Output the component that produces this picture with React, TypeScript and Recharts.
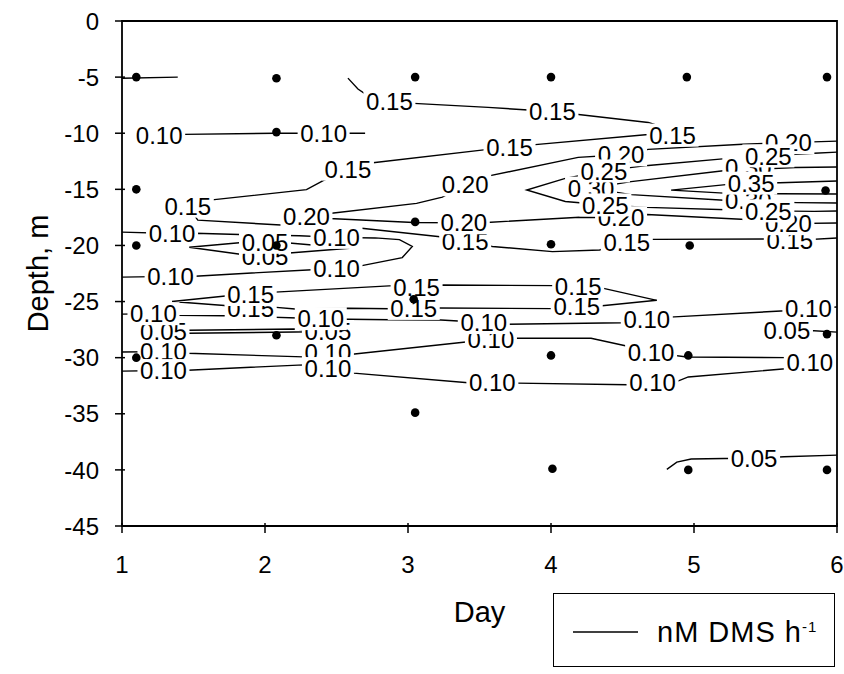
import { ScatterChart, Scatter, XAxis, YAxis, ReferenceArea } from 'recharts'

type Pt = [number, number]

const days = [1, 2, 3, 4, 5, 6]
const depthTicks = [0, -5, -10, -15, -20, -25, -30, -35, -40, -45]

// sampling stations (day, depth m)
const samples: Pt[] = [
    [1.1, -5], [1.1, -15], [1.1, -20], [1.1, -30],
    [2.08, -5.1], [2.08, -9.9], [2.08, -20], [2.08, -28],
    [3.05, -5], [3.05, -17.9], [3.04, -24.8], [3.05, -34.9],
    [4.0, -5], [4.0, -19.9], [4.0, -29.8], [4.01, -39.9],
    [4.95, -5], [4.97, -20], [4.96, -29.8], [4.96, -40],
    [5.93, -5], [5.92, -15.1], [5.93, -27.9], [5.93, -40],
]

// isolines, traced point by point (day, depth)
const iso010e: Pt[] = [[1.0, -5.1], [1.39, -5.0]]
const iso015a: Pt[] = [
    [2.58, -5.09], [2.65, -6.06], [2.7, -6.5], [2.87, -7.19], [3.04, -7.34], [3.56, -7.7], [4.01, -8.07],
    [4.68, -9.04], [4.85, -9.72], [4.68, -10.11], [3.87, -11.04], [3.71, -11.24], [3.56, -11.44],
    [2.74, -12.65], [2.58, -13.2], [2.41, -14.21], [2.29, -15.03], [1.63, -15.94], [1.46, -16.5],
    [1.53, -17.74], [2.11, -18.18], [2.66, -18.45], [3.24, -19.25], [3.4, -19.67], [3.59, -20.09],
    [4.01, -20.55], [4.34, -20.41], [4.53, -19.76], [4.71, -19.46], [5.51, -19.42], [5.67, -19.57], [6.0, -19.34],
]
const iso010a: Pt[] = [[1.26, -10.2], [1.43, -10.1], [2.07, -10.0], [2.41, -10.0], [2.7, -10.0]]
const iso020: Pt[] = [
    [6.0, -10.7], [5.66, -10.84], [5.34, -10.98], [4.68, -11.44], [4.49, -11.92], [4.19, -12.15],
    [3.55, -13.85], [3.4, -14.59], [3.24, -15.69], [3.06, -16.25], [2.45, -17.15], [2.29, -17.44],
    [2.45, -17.6], [3.04, -17.95], [3.39, -17.98], [3.55, -17.95], [4.2, -17.49], [4.49, -17.53],
    [4.67, -17.24], [5.33, -17.67], [5.66, -18.06], [6.0, -18.0],
]
const iso025: Pt[] = [
    [6.0, -11.68], [5.84, -11.79], [5.52, -12.02], [5.24, -12.24], [4.68, -12.87], [4.37, -13.36],
    [4.1, -14.03], [3.83, -15.06], [4.1, -16.08], [4.38, -16.39], [4.67, -16.61], [5.35, -16.86],
    [5.52, -16.92], [5.84, -16.96], [6.0, -16.93],
]
const iso030: Pt[] = [
    [6.0, -13.01], [5.71, -13.06], [5.22, -13.32], [4.56, -14.31], [4.28, -14.89],
    [4.56, -15.47], [5.24, -15.99], [5.72, -16.18], [6.0, -16.22],
]
const iso035: Pt[] = [
    [6.0, -14.26], [5.6, -14.41], [5.4, -14.45], [5.24, -14.56], [4.84, -15.07],
    [5.24, -15.36], [5.59, -15.4], [6.0, -15.42],
]
const iso010b: Pt[] = [
    [1.0, -18.81], [1.35, -18.93], [1.51, -18.91], [1.82, -19.03], [2.24, -19.14], [2.5, -19.28],
    [2.77, -19.33], [2.94, -19.48], [3.03, -20.09], [2.96, -21.08], [2.66, -21.84], [2.5, -22.04],
    [2.33, -22.16], [1.51, -22.74], [1.34, -22.76], [1.0, -22.82],
]
const iso005a: Pt[] = [
    [1.47, -20.16], [1.84, -19.74], [2.0, -19.72], [2.17, -19.78], [2.59, -20.25],
    [2.17, -20.67], [2.0, -20.97], [1.84, -20.81], [1.47, -20.16],
]
const iso015b: Pt[] = [
    [1.35, -24.99], [1.74, -24.48], [1.9, -24.37], [2.07, -24.16], [2.9, -23.58], [3.06, -23.74],
    [3.24, -23.53], [4.03, -23.58], [4.19, -23.64], [4.36, -23.8], [4.74, -24.89], [4.34, -25.4],
    [4.18, -25.43], [4.01, -25.63], [3.21, -25.58], [3.04, -25.61], [2.88, -25.64], [2.58, -25.6],
    [2.21, -25.66], [2.06, -25.5], [1.9, -25.62], [1.74, -25.38], [1.35, -24.99],
]
const iso010c: Pt[] = [
    [1.0, -26.12], [1.22, -26.08], [1.39, -26.23], [1.72, -26.27], [2.23, -26.46], [2.39, -26.52],
    [2.58, -26.58], [2.88, -26.62], [3.23, -26.65], [3.53, -26.87], [3.69, -27.02], [4.5, -26.89],
    [4.67, -26.6], [4.83, -26.39], [5.64, -25.82], [5.8, -25.61], [6.0, -25.49],
]
const iso005b: Pt[] = [
    [1.29, -27.68], [1.46, -27.56], [2.21, -27.44], [2.44, -27.67],
    [2.21, -27.71], [1.46, -27.83], [1.29, -27.68],
]
const iso005c: Pt[] = [[5.65, -27.6], [5.81, -27.58], [6.0, -27.72]]
const iso010d: Pt[] = [
    [1.0, -29.5], [1.29, -29.46], [1.46, -29.61], [2.27, -29.93], [2.44, -29.54], [2.61, -29.69],
    [3.42, -28.58], [3.58, -28.38], [3.75, -28.26], [4.28, -28.27], [4.52, -28.94], [4.7, -29.53],
    [4.95, -29.94], [5.65, -30.0], [5.81, -30.43], [5.64, -30.99], [4.96, -31.72], [4.87, -32.18],
    [4.71, -32.21], [4.54, -32.41], [3.76, -32.27], [3.59, -32.21], [3.42, -32.24], [2.62, -31.38],
    [2.44, -30.97], [2.27, -30.64], [1.46, -31.12], [1.29, -31.15], [1.0, -31.2],
]
const iso005d: Pt[] = [
    [4.81, -39.95], [4.88, -39.31], [4.98, -39.03], [5.21, -38.99], [5.42, -38.96], [5.63, -38.83], [6.0, -38.68],
]

// contour labels (day, depth) per level
const lab030: Pt[] = [[5.38, -13.0], [4.28, -14.89], [5.38, -15.97]]
const lab010low: Pt[] = [
    [1.29, -29.46], [2.44, -29.54], [3.58, -28.38], [4.7, -29.53], [5.81, -30.43],
    [4.71, -32.21], [3.59, -32.21], [2.44, -30.97], [1.29, -31.15],
]
const lab005: Pt[] = [[2.0, -20.97], [2.0, -19.72], [1.29, -27.68], [2.44, -27.67], [5.65, -27.6], [5.42, -38.96]]
const lab010: Pt[] = [
    [1.26, -10.2], [2.41, -10.0], [1.35, -18.93], [2.5, -19.28], [2.5, -22.04], [1.34, -22.76],
    [1.22, -26.08], [2.39, -26.52], [3.53, -26.87], [4.67, -26.6], [5.8, -25.61],
]
const lab015: Pt[] = [
    [1.9, -25.62], [3.04, -25.61], [4.18, -25.43], [1.9, -24.37], [3.06, -23.74], [4.19, -23.64],
    [2.87, -7.19], [4.01, -8.07], [4.85, -10.17], [3.71, -11.24], [2.58, -13.2], [1.46, -16.5],
    [3.4, -19.67], [4.53, -19.76], [5.67, -19.57],
]
const lab020: Pt[] = [[5.66, -10.84], [4.49, -11.92], [3.4, -14.59], [2.29, -17.44], [3.39, -17.98], [4.49, -17.53], [5.66, -18.06]]
const lab025: Pt[] = [[5.52, -12.02], [4.37, -13.36], [4.38, -16.39], [5.52, -16.92]]
const lab035: Pt[] = [[5.4, -14.45]]

const isolines = [iso010e, iso015a, iso010a, iso020, iso025, iso030, iso035, iso010b, iso005a, iso015b, iso010c, iso005b, iso005c, iso010d, iso005d]
const labelGroups: [Pt[], string][] = [
    [lab030, '0.30'], [lab010low, '0.10'], [lab005, '0.05'], [lab010, '0.10'],
    [lab015, '0.15'], [lab020, '0.20'], [lab025, '0.25'], [lab035, '0.35'],
]

const FONT = '"Liberation Sans", Arial, sans-serif'

const toXY = (pts: Pt[]) => pts.map(([x, y]) => ({ x, y }))
const toLabels = (pts: Pt[], v: string) => pts.map(([x, y]) => ({ x, y, v }))

const Nothing = () => <g />

// label knocks the isoline out behind it, like the original contour software
const ContourLabel = (props: any) => {
    const { cx, cy, payload } = props
    if (cx == null || cy == null) return <g />
    return (
        <g>
            <rect x={cx - 26} y={cy - 11.5} width={52} height={23} fill="#fff" />
            <text x={cx} y={cy} dy="0.36em" textAnchor="middle" fontSize={24} fill="#000">
                {payload.v}
            </text>
        </g>
    )
}

const Dot = (props: any) => {
    const { cx, cy } = props
    if (cx == null || cy == null) return <g />
    return <circle cx={cx} cy={cy} r={4.3} fill="#000" />
}

const XTick = (props: any) => {
    const { x, y, payload } = props
    return (
        <g>
            <line x1={x} x2={x} y1={y - 3} y2={y + 7} stroke="#000" strokeWidth={1.5} />
            <text x={x} y={y + 38} dy="0.36em" textAnchor="middle" fontSize={24} fill="#000">
                {payload.value}
            </text>
        </g>
    )
}

const YTick = (props: any) => {
    const { x, y, payload } = props
    return (
        <g>
            <line x1={x - 7} x2={x + 3} y1={y} y2={y} stroke="#000" strokeWidth={1.5} />
            <text x={x - 23} y={y} dy="0.36em" textAnchor="end" fontSize={24} fill="#000">
                {payload.value}
            </text>
        </g>
    )
}

export default function App() {
    return (
        <div style={{ position: 'absolute', left: 0, top: 0, width: 844, height: 674, background: '#fff', fontFamily: FONT }}>
            <ScatterChart width={844} height={674} margin={{ top: 21, right: 7, bottom: 108, left: 0 }}>
                <XAxis
                    type="number"
                    dataKey="x"
                    domain={[1, 6]}
                    ticks={days}
                    interval={0}
                    allowDataOverflow
                    height={40}
                    axisLine={false}
                    tickLine={false}
                    tickSize={0}
                    tickMargin={0}
                    tick={<XTick />}
                    label={{
                        content: (p: any) => (
                            <text x={p.viewBox.x + p.viewBox.width / 2} y={p.viewBox.y + p.viewBox.height + 56}
                                textAnchor="middle" fontSize={29} fill="#000">Day</text>
                        ),
                    }}
                />
                <YAxis
                    type="number"
                    dataKey="y"
                    domain={[-45, 0]}
                    ticks={depthTicks}
                    interval={0}
                    allowDataOverflow
                    width={122}
                    axisLine={false}
                    tickLine={false}
                    tickSize={0}
                    tickMargin={0}
                    tick={<YTick />}
                    label={{
                        content: (p: any) => {
                            const cy = p.viewBox.y + p.viewBox.height / 2
                            return (
                                <text x={38} y={cy} dy="0.36em" textAnchor="middle" fontSize={29} fill="#000"
                                    transform={`rotate(-90, 38, ${cy})`}>Depth, m</text>
                            )
                        },
                    }}
                />
                <ReferenceArea x1={1} x2={6} y1={-45} y2={0} fill="none" stroke="#000" strokeWidth={1.8} ifOverflow="visible" />
                {isolines.map((pts, i) => (
                    <Scatter
                        key={`iso-${i}`}
                        data={toXY(pts)}
                        line={{ stroke: '#000', strokeWidth: 1.4 }}
                        shape={<Nothing />}
                        isAnimationActive={false}
                        legendType="none"
                    />
                ))}
                {labelGroups.map(([pts, v], i) => (
                    <Scatter
                        key={`lab-${i}`}
                        data={toLabels(pts, v)}
                        shape={<ContourLabel />}
                        isAnimationActive={false}
                        legendType="none"
                    />
                ))}
                <Scatter data={toXY(samples)} shape={<Dot />} isAnimationActive={false} legendType="none" />
            </ScatterChart>
            <div style={{
                position: 'absolute', left: 553, top: 593, width: 282, height: 74,
                border: '1.5px solid #000', boxSizing: 'border-box',
            }}>
                <svg width={280} height={72} style={{ position: 'absolute', left: 0, top: 0 }}>
                    <line x1={19} x2={84} y1={38} y2={38} stroke="#000" strokeWidth={1.5} />
                    <text x={103} y={48} fontSize={29} fill="#000" letterSpacing={1} fontFamily={FONT}>
                        nM DMS h<tspan fontSize={15} dy={-10}>-1</tspan>
                    </text>
                </svg>
            </div>
        </div>
    )
}
